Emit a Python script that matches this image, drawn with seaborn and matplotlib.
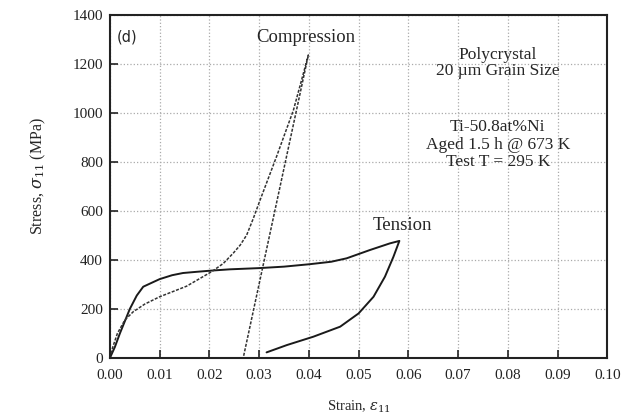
import pandas as pd
import numpy as np
import seaborn as sns
import matplotlib.pyplot as plt

# tension loop (solid), loading then unloading
tension_strain = [0.0, 0.001, 0.002, 0.003, 0.004, 0.0054, 0.0067, 0.0085, 0.010, 0.0125,
                  0.0147, 0.0175, 0.0205, 0.0241, 0.030, 0.035, 0.0402, 0.0445, 0.0476,
                  0.0523, 0.0563, 0.0582,
                  0.057, 0.0553, 0.053, 0.050, 0.0463, 0.0409, 0.0356, 0.0315]
tension_stress = [0, 45, 100, 150, 200, 255, 291, 308, 322, 338,
                  347, 352, 357, 362, 367, 373, 383, 393, 407,
                  441, 468, 478,
                  413, 332, 250, 182, 128, 87, 53, 23]

# compression loop (dotted), loading then straight unloading
comp_strain = [0.0, 0.0006, 0.0015, 0.003, 0.0047, 0.007, 0.010, 0.0154, 0.0205, 0.0228,
               0.0248, 0.0262, 0.0275, 0.0288, 0.0302, 0.0335, 0.0369, 0.0399, 0.0268]
comp_stress = [0, 46, 100, 155, 189, 220, 250, 293, 353, 386,
               428, 461, 502, 568, 645, 822, 1012, 1237, 0]

x_ticks = [0.00, 0.01, 0.02, 0.03, 0.04, 0.05, 0.06, 0.07, 0.08, 0.09, 0.10]
y_ticks = [0, 200, 400, 600, 800, 1000, 1200, 1400]

sns.set_style("ticks")
plt.rcParams['font.family'] = ['Liberation Serif', 'DejaVu Serif']
plt.rcParams['mathtext.fontset'] = 'dejavuserif'

fig = plt.figure(figsize=(6.28, 4.18), dpi=100)
ax = fig.add_axes([0.175, 0.1435, 0.792, 0.8205])

tension = pd.DataFrame({"strain": tension_strain, "stress": tension_stress})
comp = pd.DataFrame({"strain": comp_strain, "stress": comp_stress})

sns.lineplot(data=tension, x="strain", y="stress", sort=False, estimator=None,
             color="#1a1a1a", linewidth=1.4, ax=ax)
sns.lineplot(data=comp, x="strain", y="stress", sort=False, estimator=None,
             color="#333333", linewidth=1.1, linestyle=(0, (2, 1)), ax=ax)

ax.set_xlim(0, 0.10)
ax.set_ylim(0, 1400)
ax.set_xticks(x_ticks)
ax.set_xticklabels([f"{t:.2f}" for t in x_ticks])
ax.set_yticks(y_ticks)
ax.grid(True, color="#aaaaaa", linestyle=":", linewidth=0.9)
ax.tick_params(direction="in", length=6, width=1.2, labelsize=11, colors="#222222")
ax.tick_params(axis="x", pad=8)
ax.tick_params(axis="y", pad=5)
for s in ax.spines.values():
    s.set_linewidth(1.5)
    s.set_color("#222222")

ax.set_xlabel("Strain, $\\varepsilon_{11}$", fontsize=10.5, labelpad=12)
ax.set_ylabel("Stress, $\\sigma_{11}$ (MPa)", fontsize=11.5)
ax.yaxis.set_label_coords(-0.124, 0.53)

ax.text(0.0034, 1310, "(d)", fontsize=10.5, family="DejaVu Sans", ha="center", va="center")
ax.text(0.0394, 1310, "Compression", fontsize=13.5, ha="center", va="center")
ax.text(0.0589, 540, "Tension", fontsize=13.5, ha="center", va="center")
ax.text(0.078, 1237, "Polycrystal", fontsize=12.5, ha="center", va="center")
ax.text(0.078, 1170, "20 µm Grain Size", fontsize=12.5, ha="center", va="center")
ax.text(0.078, 943, "Ti-50.8at%Ni", fontsize=12.5, ha="center", va="center")
ax.text(0.078, 871, "Aged 1.5 h @ 673 K", fontsize=12.5, ha="center", va="center")
ax.text(0.078, 800, "Test T = 295 K", fontsize=12.5, ha="center", va="center")

plt.savefig("out.png", dpi=100)
